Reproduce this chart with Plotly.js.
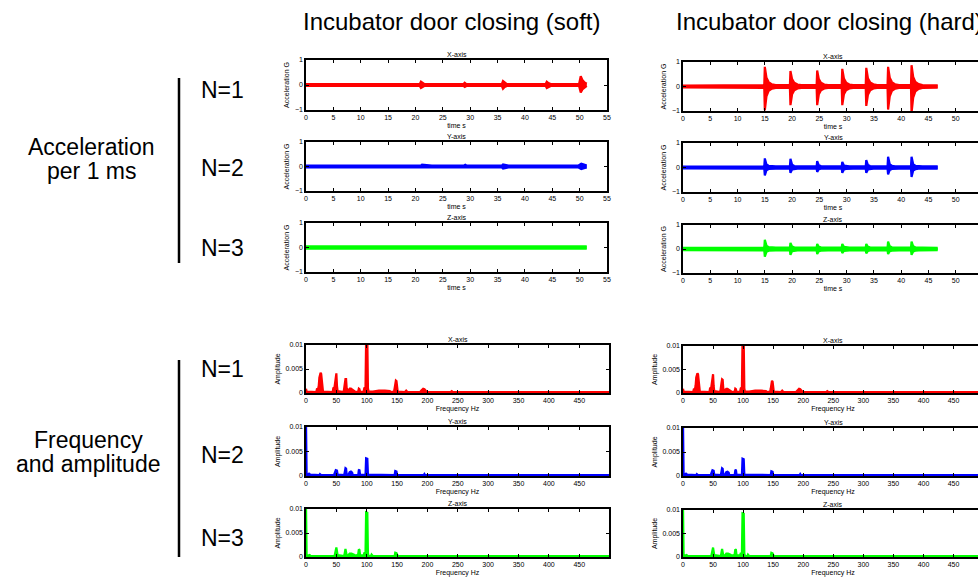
<!DOCTYPE html>
<html>
<head>
<meta charset="utf-8">
<script src="https://cdn.plot.ly/plotly-3.0.1.min.js"></script>
<style>
html,body{margin:0;padding:0;background:#fff;overflow:hidden;}
#chart{width:986px;height:585px;}
</style>
</head>
<body>
<div id="chart"></div>
<script>
// ---------------- DATA ----------------
const columnTitles = ["Incubator door closing (soft)", "Incubator door closing (hard)"];
const groupLabels = [["Acceleration", "per 1 ms"], ["Frequency", "and amplitude"]];
const rowLabels = ["N=1", "N=2", "N=3"];
const axisNames = ["X-axis", "Y-axis", "Z-axis"];
const timeTicks = [0, 5, 10, 15, 20, 25, 30, 35, 40, 45, 50, 55];
const freqTicks = [0, 50, 100, 150, 200, 250, 300, 350, 400, 450];
const accelTicks = [-1, 0, 1];
const ampTicks = [0, 0.005, 0.01];
const ampTickText = ["0", "0.005", "0.01"];

// Acceleration envelopes (upper / lower), soft closing
const softXt  = [0, 20.8, 21.0, 21.3, 21.6, 28.8, 29.0, 29.3, 35.8, 36.0, 36.3, 36.7, 43.8, 44.0, 44.3, 44.7, 49.9, 50.2, 50.5, 50.9, 51.3];
const softXhi = [0.04, 0.04, 0.13, 0.08, 0.04, 0.04, 0.09, 0.04, 0.04, 0.16, 0.09, 0.04, 0.04, 0.13, 0.08, 0.04, 0.04, 0.35, 0.20, 0.10, 0.05];
const softXlo = [-0.04, -0.04, -0.12, -0.07, -0.04, -0.04, -0.08, -0.04, -0.04, -0.15, -0.08, -0.04, -0.04, -0.12, -0.07, -0.04, -0.04, -0.30, -0.18, -0.09, -0.04];

const softYt  = [0, 15.8, 16.0, 16.2, 21.0, 21.2, 22.5, 23.0, 28.9, 29.1, 29.3, 35.8, 36.0, 36.6, 37.0, 49.8, 50.3, 50.8, 51.3];
const softYhi = [0.04, 0.04, 0.07, 0.04, 0.04, 0.08, 0.07, 0.04, 0.04, 0.07, 0.04, 0.04, 0.08, 0.07, 0.04, 0.04, 0.11, 0.08, 0.04];
const softYlo = [-0.04, -0.04, -0.06, -0.04, -0.04, -0.07, -0.06, -0.04, -0.04, -0.06, -0.04, -0.04, -0.08, -0.06, -0.04, -0.04, -0.10, -0.07, -0.04];

const softZt  = [0, 15.8, 16.0, 16.2, 21.0, 21.2, 21.4, 42.4, 42.6, 42.8, 50.2, 50.5, 51.3];
const softZhi = [0.05, 0.05, 0.07, 0.05, 0.05, 0.07, 0.05, 0.05, 0.07, 0.05, 0.05, 0.07, 0.05];
const softZlo = [-0.05, -0.05, -0.06, -0.05, -0.05, -0.06, -0.05, -0.05, -0.06, -0.05, -0.05, -0.06, -0.05];

// Acceleration envelopes, hard closing (seven door impacts)
const hardT = [0, 12.5,
  14.9, 15.0, 15.3, 15.7, 16.3, 17.0,
  19.6, 19.7, 20.0, 20.4, 21.0, 21.7,
  24.5, 24.6, 24.9, 25.3, 25.9, 26.6,
  29.1, 29.2, 29.5, 29.9, 30.5, 31.2,
  33.5, 33.6, 33.9, 34.3, 34.9, 35.6,
  37.5, 37.6, 37.9, 38.3, 38.9, 39.6,
  41.8, 41.9, 42.2, 42.6, 43.2, 43.9,
  46.7];
const hardXhi = [0.04, 0.06,
  0.06, 0.80, 0.36, 0.18, 0.09, 0.06,
  0.06, 0.63, 0.30, 0.15, 0.08, 0.06,
  0.06, 0.65, 0.30, 0.15, 0.08, 0.06,
  0.06, 0.72, 0.33, 0.16, 0.08, 0.06,
  0.06, 0.76, 0.34, 0.17, 0.09, 0.06,
  0.06, 0.80, 0.36, 0.18, 0.09, 0.06,
  0.06, 0.87, 0.39, 0.19, 0.10, 0.06,
  0.05];
const hardXlo = [-0.04, -0.06,
  -0.06, -0.97, -0.40, -0.18, -0.09, -0.06,
  -0.06, -0.76, -0.32, -0.15, -0.08, -0.06,
  -0.06, -0.76, -0.32, -0.15, -0.08, -0.06,
  -0.06, -0.76, -0.32, -0.15, -0.08, -0.06,
  -0.06, -0.79, -0.34, -0.16, -0.08, -0.06,
  -0.06, -0.94, -0.40, -0.18, -0.09, -0.06,
  -0.06, -1.08, -0.45, -0.20, -0.10, -0.06,
  -0.05];
const hardYhi = [0.04, 0.05,
  0.05, 0.37, 0.12, 0.07, 0.05, 0.05,
  0.05, 0.35, 0.11, 0.06, 0.05, 0.05,
  0.05, 0.26, 0.09, 0.06, 0.05, 0.05,
  0.05, 0.23, 0.08, 0.06, 0.05, 0.05,
  0.05, 0.30, 0.10, 0.06, 0.05, 0.05,
  0.05, 0.44, 0.13, 0.07, 0.05, 0.05,
  0.05, 0.44, 0.13, 0.07, 0.05, 0.05,
  0.05];
const hardYlo = [-0.04, -0.05,
  -0.05, -0.32, -0.11, -0.06, -0.05, -0.05,
  -0.05, -0.22, -0.08, -0.06, -0.05, -0.05,
  -0.05, -0.18, -0.07, -0.05, -0.05, -0.05,
  -0.05, -0.22, -0.08, -0.06, -0.05, -0.05,
  -0.05, -0.22, -0.08, -0.06, -0.05, -0.05,
  -0.05, -0.28, -0.10, -0.06, -0.05, -0.05,
  -0.05, -0.39, -0.12, -0.07, -0.05, -0.05,
  -0.05];
const hardZhi = [0.05, 0.06,
  0.06, 0.38, 0.14, 0.08, 0.06, 0.06,
  0.06, 0.25, 0.10, 0.07, 0.06, 0.06,
  0.06, 0.21, 0.09, 0.07, 0.06, 0.06,
  0.06, 0.21, 0.09, 0.07, 0.06, 0.06,
  0.06, 0.21, 0.09, 0.07, 0.06, 0.06,
  0.06, 0.31, 0.11, 0.07, 0.06, 0.06,
  0.06, 0.31, 0.11, 0.07, 0.06, 0.06,
  0.05];
const hardZlo = [-0.05, -0.06,
  -0.06, -0.32, -0.12, -0.07, -0.06, -0.06,
  -0.06, -0.24, -0.09, -0.07, -0.06, -0.06,
  -0.06, -0.21, -0.09, -0.07, -0.06, -0.06,
  -0.06, -0.17, -0.08, -0.06, -0.06, -0.06,
  -0.06, -0.18, -0.08, -0.06, -0.06, -0.06,
  -0.06, -0.21, -0.09, -0.07, -0.06, -0.06,
  -0.06, -0.24, -0.10, -0.07, -0.06, -0.06,
  -0.05];

// Amplitude spectra (frequency Hz / amplitude)
const softFXf = [0, 1, 17, 18, 20, 21, 22, 23, 24, 25, 26, 27, 28, 44, 45, 47, 48, 49, 50, 51, 52, 62, 63, 64, 65, 66, 67, 68, 70, 72, 74, 76, 78, 80, 82, 86, 87, 88, 89, 95, 96, 98, 99, 101, 102, 103, 110, 115, 120, 130, 138, 140, 145, 146, 147, 148, 149, 150, 151, 163, 165, 167, 188, 190, 193, 195, 197, 199, 238, 240, 242, 499];
const softFXa = [0.0009, 0.0003, 0.0002, 0.0008, 0.0009, 0.0015, 0.0032, 0.0040, 0.0042, 0.0040, 0.0025, 0.0008, 0.0003, 0.0002, 0.0010, 0.0012, 0.0025, 0.0040, 0.0041, 0.0015, 0.0004, 0.0002, 0.0008, 0.0020, 0.0029, 0.0029, 0.0010, 0.0004, 0.0006, 0.0009, 0.0009, 0.0007, 0.0005, 0.0004, 0.0002, 0.0003, 0.0009, 0.0008, 0.0002, 0.0003, 0.0010, 0.0012, 0.0110, 0.0110, 0.0010, 0.0003, 0.0003, 0.0004, 0.0005, 0.0005, 0.0004, 0.0002, 0.0003, 0.0010, 0.0022, 0.0026, 0.0025, 0.0010, 0.0003, 0.0002, 0.0005, 0.0002, 0.0002, 0.0005, 0.0009, 0.0008, 0.0004, 0.0002, 0.0002, 0.0004, 0.0002, 0.0002];

const softFYf = [0, 1, 3, 5, 7, 22, 23, 25, 46, 47, 49, 51, 52, 63, 64, 65, 66, 67, 70, 72, 74, 76, 77, 86, 87, 88, 89, 98, 99, 101, 102, 146, 147, 149, 150, 194, 195, 196, 499];
const softFYa = [0.0110, 0.0004, 0.0003, 0.0005, 0.0003, 0.0002, 0.0004, 0.0002, 0.0002, 0.0006, 0.0012, 0.0011, 0.0003, 0.0002, 0.0012, 0.0016, 0.0015, 0.0003, 0.0003, 0.0008, 0.0009, 0.0007, 0.0002, 0.0002, 0.0012, 0.0013, 0.0003, 0.0002, 0.0036, 0.0035, 0.0003, 0.0002, 0.0010, 0.0009, 0.0002, 0.0002, 0.0004, 0.0002, 0.0002];

const softFZf = [0, 1, 4, 6, 8, 47, 48, 49, 50, 51, 52, 63, 64, 65, 66, 67, 70, 72, 75, 78, 80, 84, 86, 87, 88, 89, 95, 96, 98, 99, 101, 102, 103, 107, 108, 110, 146, 147, 149, 151, 499];
const softFZa = [0.0110, 0.0004, 0.0003, 0.0004, 0.0002, 0.0002, 0.0008, 0.0019, 0.0020, 0.0012, 0.0004, 0.0002, 0.0015, 0.0017, 0.0010, 0.0003, 0.0004, 0.0007, 0.0007, 0.0005, 0.0004, 0.0003, 0.0006, 0.0016, 0.0015, 0.0004, 0.0003, 0.0008, 0.0009, 0.0093, 0.0092, 0.0008, 0.0002, 0.0002, 0.0005, 0.0002, 0.0002, 0.0009, 0.0008, 0.0002, 0.0002];

const hardFXf = [0, 1, 17, 18, 20, 21, 22, 23, 24, 25, 26, 27, 28, 44, 45, 47, 48, 49, 50, 51, 52, 62, 63, 64, 65, 66, 67, 68, 70, 72, 74, 76, 78, 80, 82, 86, 87, 88, 89, 95, 96, 98, 99, 101, 102, 103, 110, 115, 120, 130, 138, 140, 145, 146, 147, 148, 149, 150, 151, 163, 165, 167, 188, 190, 193, 195, 197, 199, 238, 240, 242, 499];
const hardFXa = [0.0009, 0.0003, 0.0002, 0.0008, 0.0009, 0.0016, 0.0033, 0.0041, 0.0042, 0.0040, 0.0024, 0.0008, 0.0003, 0.0002, 0.0010, 0.0012, 0.0026, 0.0040, 0.0040, 0.0015, 0.0004, 0.0002, 0.0008, 0.0021, 0.0029, 0.0028, 0.0010, 0.0004, 0.0006, 0.0009, 0.0009, 0.0007, 0.0005, 0.0004, 0.0002, 0.0003, 0.0009, 0.0008, 0.0002, 0.0003, 0.0010, 0.0012, 0.0110, 0.0110, 0.0010, 0.0003, 0.0003, 0.0004, 0.0005, 0.0005, 0.0004, 0.0002, 0.0003, 0.0010, 0.0022, 0.0026, 0.0024, 0.0010, 0.0003, 0.0002, 0.0005, 0.0002, 0.0002, 0.0005, 0.0009, 0.0008, 0.0004, 0.0002, 0.0002, 0.0004, 0.0002, 0.0002];

const hardFYf = [0, 1, 3, 5, 7, 22, 23, 25, 46, 47, 49, 51, 52, 63, 64, 65, 66, 67, 70, 72, 74, 76, 77, 86, 87, 88, 89, 98, 99, 101, 102, 146, 147, 149, 150, 194, 195, 196, 499];
const hardFYa = [0.0110, 0.0004, 0.0003, 0.0005, 0.0003, 0.0002, 0.0004, 0.0002, 0.0002, 0.0006, 0.0012, 0.0011, 0.0003, 0.0002, 0.0012, 0.0016, 0.0015, 0.0003, 0.0003, 0.0008, 0.0009, 0.0007, 0.0002, 0.0002, 0.0012, 0.0013, 0.0003, 0.0002, 0.0036, 0.0035, 0.0003, 0.0002, 0.0010, 0.0009, 0.0002, 0.0002, 0.0004, 0.0002, 0.0002];

const hardFZf = [0, 1, 4, 6, 8, 47, 48, 49, 50, 51, 52, 63, 64, 65, 66, 67, 70, 72, 75, 78, 80, 84, 86, 87, 88, 89, 95, 96, 98, 99, 101, 102, 103, 107, 108, 110, 146, 147, 149, 151, 499];
const hardFZa = [0.0110, 0.0004, 0.0003, 0.0004, 0.0002, 0.0002, 0.0008, 0.0019, 0.0020, 0.0012, 0.0004, 0.0002, 0.0015, 0.0017, 0.0010, 0.0003, 0.0004, 0.0007, 0.0007, 0.0005, 0.0004, 0.0003, 0.0006, 0.0016, 0.0015, 0.0004, 0.0003, 0.0008, 0.0009, 0.0093, 0.0092, 0.0008, 0.0002, 0.0002, 0.0005, 0.0002, 0.0002, 0.0009, 0.0008, 0.0002, 0.0002];

const colors = ["#ff0000", "#0000ff", "#00ff00"];

// ---------------- LAYOUT HELPERS ----------------
const W = 986, H = 585;
const px = v => v / W;
const py = v => 1 - v / H;
const FONT = "Liberation Sans, Arial, sans-serif";

// [left,right] px for columns, [top,bottom] px for rows
const timeCols = [[306, 607], [683, 983]];
const freqCols = [[306, 609], [683, 983]];
const timeRows = [[[60, 110], [142, 191], [223, 272]], [[62, 111], [143, 192], [225, 273]]];
const freqRows = [[[345, 393], [427, 476], [509, 557]], [[346, 393], [428, 476], [510, 557]]];

const timeSeries = [
  [[softXt, softXhi, softXlo], [softYt, softYhi, softYlo], [softZt, softZhi, softZlo]],
  [[hardT, hardXhi, hardXlo], [hardT, hardYhi, hardYlo], [hardT, hardZhi, hardZlo]]
];
const freqSeries = [
  [[softFXf, softFXa], [softFYf, softFYa], [softFZf, softFZa]],
  [[hardFXf, hardFXa], [hardFYf, hardFYa], [hardFZf, hardFZa]]
];

const data = [];
const layout = {
  width: W, height: H,
  margin: {l: 0, r: 0, t: 0, b: 0},
  paper_bgcolor: "#fff", plot_bgcolor: "#fff",
  showlegend: false,
  font: {family: FONT, color: "#000"},
  annotations: [], shapes: []
};

function baseAxis() {
  return {
    showline: true, linecolor: "#000", linewidth: 1.6, mirror: "ticks",
    ticks: "inside", ticklen: 3, tickwidth: 1, tickcolor: "#000",
    showgrid: false, zeroline: false, fixedrange: true, automargin: false,
    tickfont: {family: FONT, size: 7, color: "#000"}
  };
}

let n = 0;
function addPanel(kind, col, row) {
  n++;
  const xa = "xaxis" + (n === 1 ? "" : n), ya = "yaxis" + (n === 1 ? "" : n);
  const xr = "x" + (n === 1 ? "" : n), yr = "y" + (n === 1 ? "" : n);
  const cols = kind === "time" ? timeCols : freqCols;
  const rows = kind === "time" ? timeRows : freqRows;
  const [l, r] = cols[col];
  const [t, b] = rows[col][row];
  const X = baseAxis(), Y = baseAxis();
  X.domain = [px(l), px(r)];
  Y.domain = [py(b), py(t)];
  X.anchor = yr; Y.anchor = xr;
  if (kind === "time") {
    X.range = [0, 55]; X.tickvals = timeTicks;
    Y.range = [-1, 1]; Y.tickvals = accelTicks;
    X.title = {text: "time s", font: {family: FONT, size: 7}, standoff: 3};
    Y.title = {text: "Acceleration G", font: {family: FONT, size: 7}, standoff: 4};
    const [tt, hi, lo] = timeSeries[col][row];
    data.push({x: tt, y: hi, xaxis: xr, yaxis: yr, type: "scatter", mode: "lines",
      line: {color: colors[row], width: 2.2}, hoverinfo: "skip"});
    data.push({x: tt, y: lo, xaxis: xr, yaxis: yr, type: "scatter", mode: "lines",
      fill: "tonexty", fillcolor: colors[row],
      line: {color: colors[row], width: 2.2}, hoverinfo: "skip"});
  } else {
    X.range = [0, 499]; X.tickvals = freqTicks;
    Y.range = [0, 0.01]; Y.tickvals = ampTicks; Y.ticktext = ampTickText;
    X.title = {text: "Frequency Hz", font: {family: FONT, size: 7}, standoff: 3};
    Y.title = {text: "Amplitude", font: {family: FONT, size: 7}, standoff: 4};
    const [ff, aa] = freqSeries[col][row];
    data.push({x: ff, y: aa, xaxis: xr, yaxis: yr, type: "scatter", mode: "lines",
      fill: "tozeroy", fillcolor: colors[row],
      line: {color: colors[row], width: 2.2}, hoverinfo: "skip"});
  }
  layout[xa] = X; layout[ya] = Y;
  layout.annotations.push({
    text: axisNames[row], xref: xr + " domain", yref: yr + " domain",
    x: 0.5, y: 1, xanchor: "center", yanchor: "bottom", yshift: 0,
    showarrow: false, font: {family: FONT, size: 7, color: "#000"}
  });
}

for (let c = 0; c < 2; c++) for (let r = 0; r < 3; r++) addPanel("time", c, r);
for (let c = 0; c < 2; c++) for (let r = 0; r < 3; r++) addPanel("freq", c, r);

// Column titles
const titleX = [451, 829];
columnTitles.forEach((t, i) => layout.annotations.push({
  text: t, xref: "paper", yref: "paper", x: px(titleX[i]), y: py(22),
  xanchor: "center", yanchor: "middle", showarrow: false,
  font: {family: FONT, size: 24, color: "#000"}
}));

// Group labels and row labels
const groupY = [[147, 171], [440, 464]];
const groupX = [91, 88];
groupLabels.forEach((lines, g) => lines.forEach((t, k) => layout.annotations.push({
  text: t, xref: "paper", yref: "paper", x: px(groupX[g]), y: py(groupY[g][k]),
  xanchor: "center", yanchor: "middle", showarrow: false,
  font: {family: FONT, size: 23, color: "#000"}
})));
const rowY = [[90, 168, 248], [369, 455, 538]];
rowY.forEach(ys => ys.forEach((y, k) => layout.annotations.push({
  text: rowLabels[k], xref: "paper", yref: "paper", x: px(199), y: py(y),
  xanchor: "left", yanchor: "middle", showarrow: false,
  font: {family: FONT, size: 23, color: "#000"}
})));

// Vertical bars
const bars = [[78, 263], [360, 557]];
bars.forEach(([t, b]) => layout.shapes.push({
  type: "line", xref: "paper", yref: "paper",
  x0: px(179), x1: px(179), y0: py(t), y1: py(b),
  line: {color: "#000", width: 2.5}
}));

Plotly.newPlot("chart", data, layout, {staticPlot: true, displayModeBar: false});
</script>
</body>
</html>
